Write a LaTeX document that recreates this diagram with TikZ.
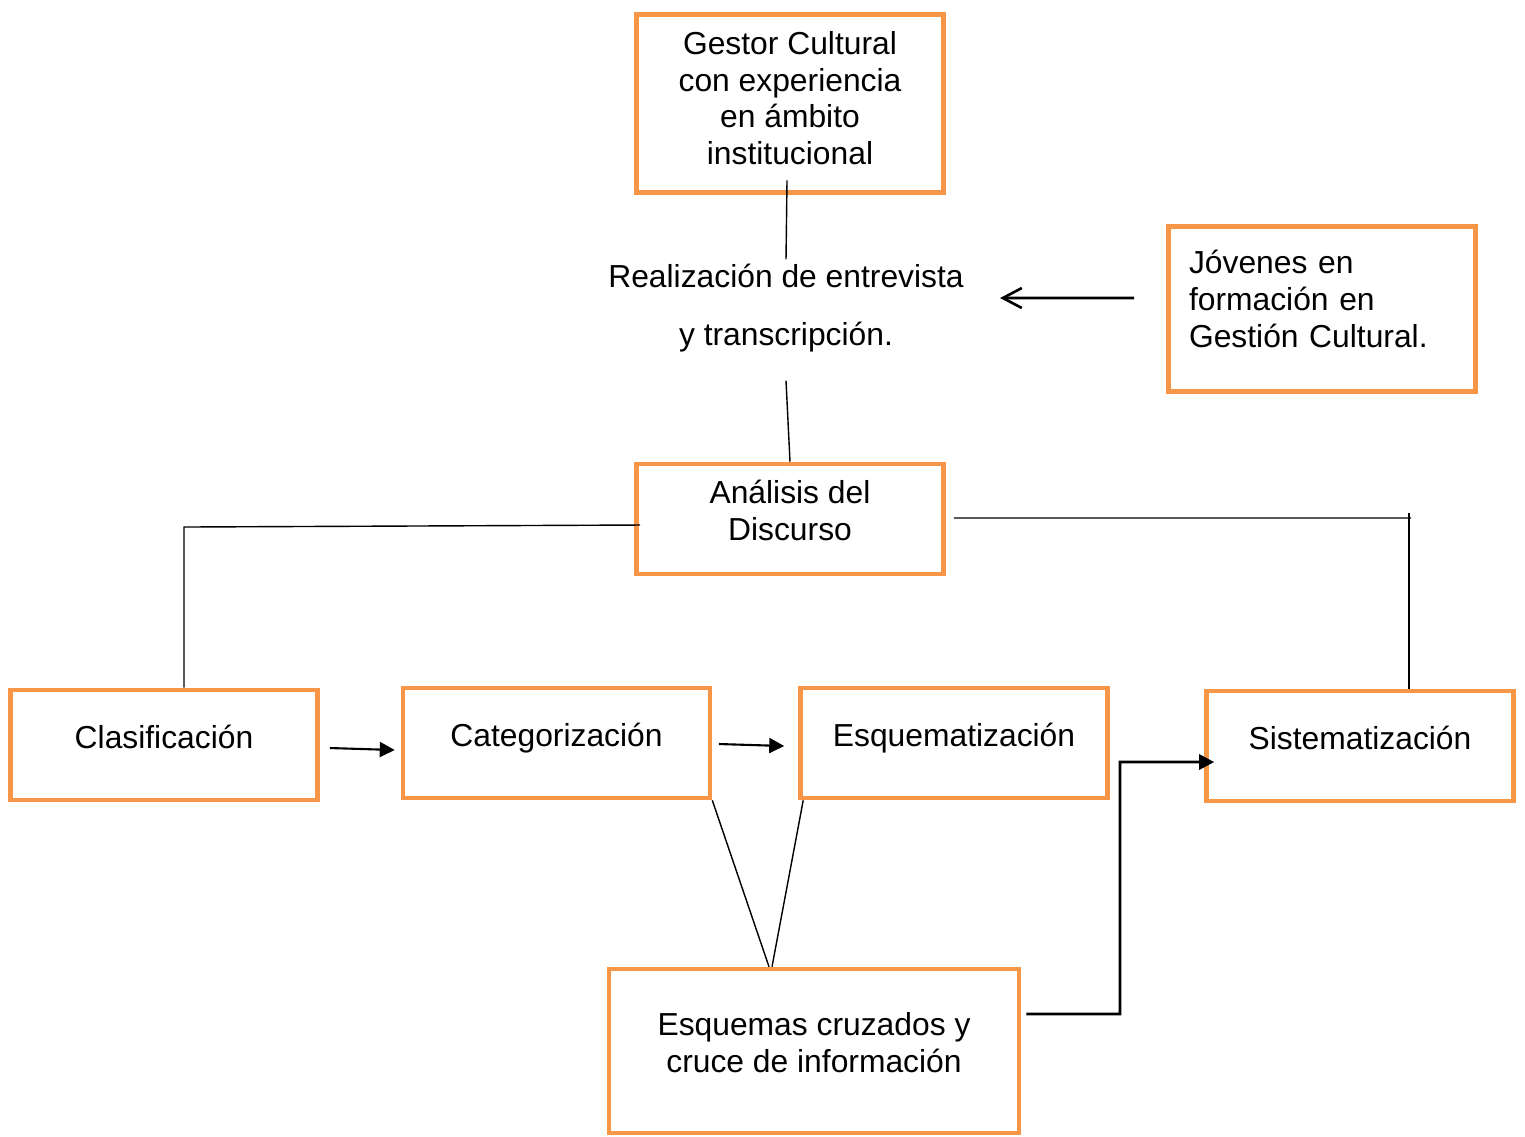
\documentclass[tikz,border=0pt]{standalone}
\usepackage{fontspec}
\setmainfont{Liberation Sans}
\usetikzlibrary{arrows.meta}
\definecolor{cajanaranja}{HTML}{F79646}
\tikzset{
	caja/.style={draw=cajanaranja, line width=1.3pt, minimum width=3.07cm, minimum height=1.1cm,
		align=center, inner sep=0pt, text depth=0.17cm, font=\fontsize{9.05}{10.5}\selectfont},
	conector/.style={line width=0.4pt},
	flecha/.style={line width=0.6pt, -{Triangle[length=1.5mm,width=1.5mm]}},
}
\begin{document}
\begin{tikzpicture}
	\useasboundingbox (0,0) rectangle (15.25,-11.36);
	% the boxes
	\node[caja, minimum height=1.78cm, text depth=0.11cm] (gestor) at (7.90,-1.035) {Gestor Cultural\\con experiencia\\en ámbito\\institucional};
	\node[caja, minimum height=1.65cm, align=left, text width=2.66cm, text depth=0.94cm] (jovenes) at (13.22,-3.09) {Jóvenes en\\formación en\\Gestión Cultural.};
	\node[caja] (analisis) at (7.90,-5.19) {Análisis del\\Discurso};
	\node[caja] (clasif) at (1.64,-7.45) {Clasificación};
	\node[caja] (categ) at (5.565,-7.43) {Categorización};
	\node[caja] (esquema) at (9.54,-7.43) {Esquematización};
	\node[caja] (sistem) at (13.60,-7.46) {Sistematización};
	\node[caja, minimum width=4.1cm, minimum height=1.64cm] (cruce) at (8.14,-10.51) {Esquemas cruzados y\\cruce de información};
	% the interview step
	\node[align=center, minimum height=1.2cm, inner sep=0pt, text depth=0.30cm, font=\fontsize{9.05}{10.5}\selectfont] (realiza) at (7.86,-3.2) {Realización de entrevista\\[6pt]y transcripción.};
	\coordinate (llegada) at (10.0,-2.98);
	\coordinate (esqizq) at (1.84,-5.27);
	\coordinate (esqder) at (14.11,-5.18);
	\coordinate (topeder) at (14.09,-5.13);
	\coordinate (codo) at (11.20,-7.62);
	% top of the chain
	\draw[conector] ([shift={(-0.03,0.145)}]gestor.south) -- (realiza.north);
	\draw[conector] (realiza.south) -- (analisis.north);
	\draw[line width=0.75pt, -{Straight Barb[length=1.9mm,width=2mm]}] ([shift={(-0.32,0.11)}]jovenes.west) -- (llegada);
	% branches of the analysis
	\draw[conector] ([shift={(0.06,-0.06)}]analisis.west) -- (esqizq) -- (esqizq |- clasif.north);
	\draw[conector] ([shift={(0.08,0.01)}]analisis.east) -- (esqder);
	\draw[conector] (topeder) -- (topeder |- sistem.north);
	% the steps
	\draw[flecha] ([shift={(0.1,-0.03)}]clasif.east) -- ([shift={(-0.06,-0.07)}]categ.west);
	\draw[flecha] ([shift={(0.065,-0.01)}]categ.east) -- ([shift={(-0.14,-0.03)}]esquema.west);
	\draw[conector] (categ.south east) -- ([xshift=-0.45cm]cruce.north);
	\draw[conector] ([xshift=0.05cm]esquema.south west) -- ([xshift=-0.42cm]cruce.north);
	\draw[flecha, line width=0.8pt] ([shift={(0.05,0.37)}]cruce.east) -| (codo) -- ([shift={(0.1,-0.16)}]sistem.west);
\end{tikzpicture}
\end{document}
